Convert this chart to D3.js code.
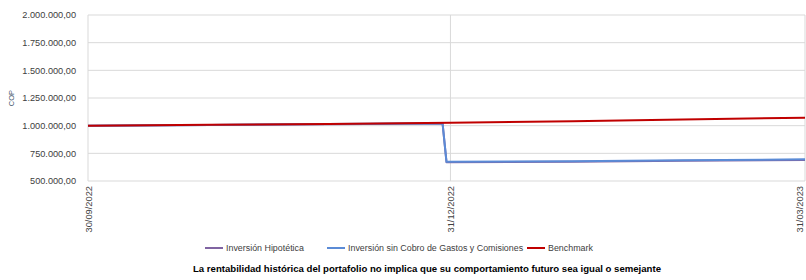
<!DOCTYPE html>
<html><head><meta charset="utf-8">
<script src="https://cdn.jsdelivr.net/npm/d3@7"></script>
<style>body{margin:0;background:#fff}svg{display:block}</style>
</head><body><svg id="c" width="806" height="280"></svg>
<script>
const dates = ["2022-09-30","2022-10-31","2022-11-30","2022-12-29","2022-12-30","2023-01-31","2023-02-28","2023-03-31"];
const hipotetica = [1000000,1006000,1013000,1020000,670000,675000,682000,690000];
const sinCobro   = [1000000,1007000,1014000,1021000,673000,679000,687000,696000];
const benchDates = ["2022-09-30","2022-10-31","2022-11-30","2022-12-31","2023-01-31","2023-02-28","2023-03-31"];
const benchmark  = [1000000,1008000,1016000,1027000,1040000,1056000,1072000];
const yTicks = [500000,750000,1000000,1250000,1500000,1750000,2000000];
const xTicks = ["2022-09-30","2022-12-31","2023-03-31"];
const seriesNames = ["Inversión Hipotética","Inversión sin Cobro de Gastos y Comisiones","Benchmark"];
const colors = ["#8064a2","#5b8bd6","#c00000"];
const yTitle = "COP";
const footer = "La rentabilidad histórica del portafolio no implica que su comportamiento futuro sea igual o semejante";

const parse = d3.utcParse("%Y-%m-%d");
const fmtDate = d3.utcFormat("%d/%m/%Y");
const svg = d3.select("#c");
const L = 88, R = 805, T = 15, B = 181;
const FONT = "Liberation Sans, Arial, sans-serif";
const x = d3.scaleUtc().domain([parse(xTicks[0]), parse(xTicks[2])]).range([L, R]);
const y = d3.scaleLinear().domain([500000, 2000000]).range([B, T]);
const fmtNum = v => d3.format(",.2f")(v).replace(/,/g,"#").replace(/\./g,",").replace(/#/g,".");

svg.append("g").selectAll("line").data(yTicks).join("line")
  .attr("x1", L).attr("x2", R).attr("y1", d => y(d)).attr("y2", d => y(d))
  .attr("stroke", "#d9d9d9").attr("stroke-width", 1);
svg.append("g").selectAll("line").data(xTicks).join("line")
  .attr("x1", d => x(parse(d))).attr("x2", d => x(parse(d))).attr("y1", T).attr("y2", B)
  .attr("stroke", "#d9d9d9").attr("stroke-width", 1);

svg.append("g").selectAll("text").data(yTicks).join("text")
  .attr("x", 76).attr("y", d => y(d)).attr("dy", "0.35em").attr("text-anchor", "end")
  .attr("font-family", FONT).attr("font-size", "9.2px").attr("fill", "#404040")
  .text(fmtNum);

svg.append("text").attr("transform", `translate(14,98) rotate(-90)`).attr("text-anchor", "middle")
  .attr("font-family", FONT).attr("font-size", "7.5px").attr("fill", "#44546a")
  .text(yTitle);

svg.append("g").selectAll("text").data(xTicks).join("text")
  .attr("transform", d => `translate(${Math.min(x(parse(d)) + 3.5, 803)},186) rotate(-90)`)
  .attr("text-anchor", "end")
  .attr("font-family", FONT).attr("font-size", "9.3px").attr("fill", "#404040")
  .text(d => fmtDate(parse(d)));

const line = d3.line().x(d => x(d[0])).y(d => y(d[1]));
const data = [
  dates.map((d,i) => [parse(d), hipotetica[i]]),
  dates.map((d,i) => [parse(d), sinCobro[i]]),
  benchDates.map((d,i) => [parse(d), benchmark[i]])
];
data.forEach((s,i) => {
  svg.append("path").datum(s).attr("d", line).attr("fill", "none")
    .attr("stroke", colors[i]).attr("stroke-width", 2).attr("stroke-linejoin", "round");
});

const legX = [205, 327, 527];
const lg = svg.append("g");
seriesNames.forEach((n,i) => {
  lg.append("line").attr("x1", legX[i]).attr("x2", legX[i] + 18).attr("y1", 248).attr("y2", 248)
    .attr("stroke", colors[i]).attr("stroke-width", 2);
  lg.append("text").attr("x", legX[i] + 21).attr("y", 248).attr("dy", "0.35em")
    .attr("font-family", FONT).attr("font-size", "8.9px").attr("fill", "#404040")
    .text(n);
});

svg.append("text").attr("x", 427).attr("y", 269).attr("dy", "0.35em").attr("text-anchor", "middle")
  .attr("font-family", FONT).attr("font-size", "9.6px").attr("font-weight", "bold").attr("fill", "#000")
  .text(footer);
</script></body></html>
